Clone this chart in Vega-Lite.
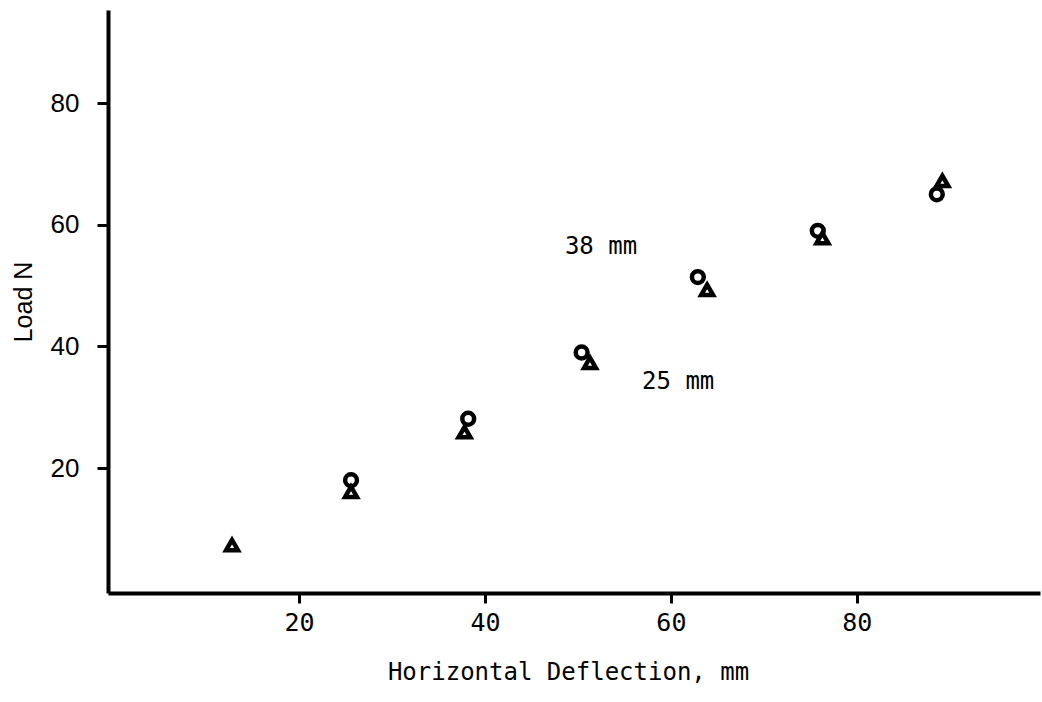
{
  "$schema": "https://vega.github.io/schema/vega-lite/v6.json",
  "width": 932,
  "height": 583,
  "autosize": {"type": "none"},
  "padding": {"left": 108, "top": 10, "right": 2, "bottom": 109},
  "background": "white",
  "config": {
    "view": {"stroke": null},
    "axis": {"grid": false, "domainColor": "black", "tickColor": "black", "labelColor": "black", "titleColor": "black", "titleFontWeight": "normal"}
  },
  "layer": [
    {
      "data": {"values": [
        {"deflection": 12.8, "load": 7.35, "spacing": "25 mm"},
        {"deflection": 25.6, "load": 18.0, "spacing": "38 mm"},
        {"deflection": 25.6, "load": 16.1, "spacing": "25 mm"},
        {"deflection": 38.2, "load": 28.1, "spacing": "38 mm"},
        {"deflection": 37.8, "load": 25.9, "spacing": "25 mm"},
        {"deflection": 50.4, "load": 39.0, "spacing": "38 mm"},
        {"deflection": 51.3, "load": 37.3, "spacing": "25 mm"},
        {"deflection": 62.9, "load": 51.4, "spacing": "38 mm"},
        {"deflection": 63.9, "load": 49.3, "spacing": "25 mm"},
        {"deflection": 75.8, "load": 59.0, "spacing": "38 mm"},
        {"deflection": 76.3, "load": 57.8, "spacing": "25 mm"},
        {"deflection": 88.6, "load": 65.0, "spacing": "38 mm"},
        {"deflection": 89.2, "load": 67.2, "spacing": "25 mm"}
      ]},
      "mark": {"type": "point", "filled": false, "stroke": "black", "strokeWidth": 4.5, "size": 140, "opacity": 1},
      "encoding": {
        "x": {
          "field": "deflection", "type": "quantitative",
          "scale": {"domain": [-0.54, 99.7], "nice": false, "zero": false},
          "axis": {
            "title": "Horizontal Deflection, mm",
            "values": [20, 40, 60, 80],
            "domainWidth": 4, "tickWidth": 3, "tickSize": 10,
            "labelFont": "DejaVu Sans Mono", "labelFontSize": 25, "labelPadding": 7,
            "titleFont": "DejaVu Sans Mono", "titleFontSize": 24, "titlePadding": 25, "titleX": 460
          }
        },
        "y": {
          "field": "load", "type": "quantitative",
          "scale": {"domain": [-0.54, 95.3], "nice": false, "zero": false},
          "axis": {
            "title": "Load N",
            "values": [20, 40, 60, 80],
            "domainWidth": 4, "tickWidth": 3, "tickSize": 11,
            "labelFont": "Liberation Sans", "labelFontSize": 26, "labelPadding": 18,
            "titleFont": "Liberation Sans", "titleFontSize": 25, "titlePadding": 14
          }
        },
        "shape": {
          "field": "spacing", "type": "nominal",
          "scale": {"domain": ["38 mm", "25 mm"], "range": ["circle", "triangle-up"]},
          "legend": null
        }
      }
    },
    {
      "data": {"values": [
        {"deflection": 48.6, "load": 56.3, "text": "38 mm"},
        {"deflection": 56.9, "load": 34.1, "text": "25 mm"}
      ]},
      "mark": {"type": "text", "align": "left", "baseline": "middle", "font": "DejaVu Sans Mono", "fontSize": 24, "color": "black"},
      "encoding": {
        "x": {"field": "deflection", "type": "quantitative"},
        "y": {"field": "load", "type": "quantitative"},
        "text": {"field": "text"}
      }
    }
  ]
}
